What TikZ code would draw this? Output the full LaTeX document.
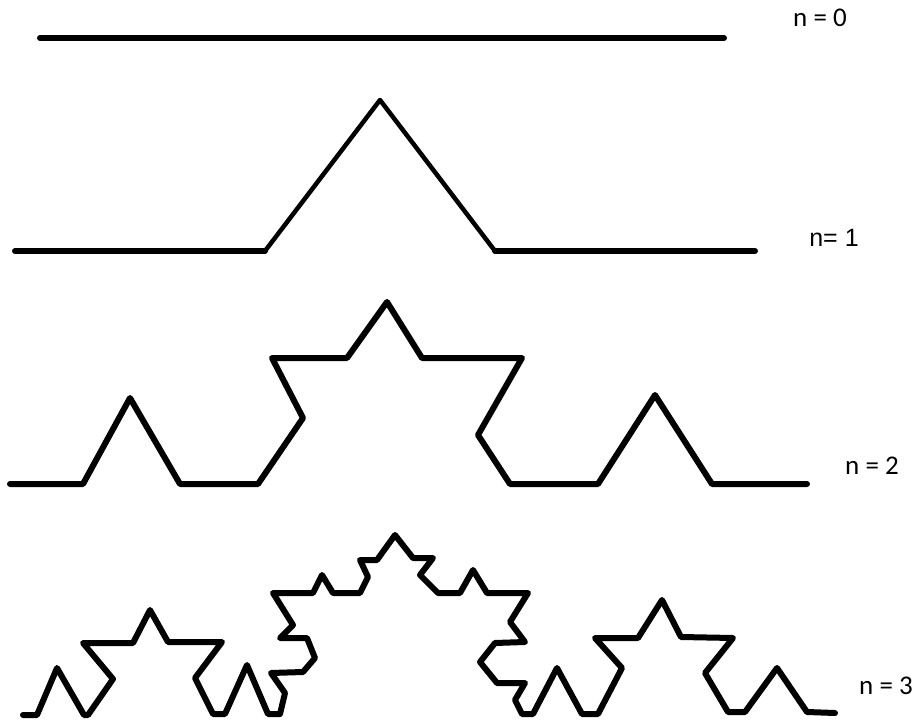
\documentclass[tikz,border=0pt]{standalone}
\usepackage{fontspec}
\setmainfont{Carlito}
\newfontfamily\arialf{Liberation Sans}
\begin{document}
\begin{tikzpicture}[x=1pt,y=-1pt,
  curve/.style={line width=6pt, line join=round, line cap=round, draw=black},
  thinline/.style={line width=4.5pt, line join=round, line cap=round, draw=black},
  lab/.style={font=\fontsize{27}{30}\selectfont, text=black, inner sep=0pt}]
\fill[white] (0,0) rectangle (922,723);
\useasboundingbox (0,0) rectangle (922,723);

% n = 0
\draw[curve] (40,38) -- (724,38);
\node[lab] (l0) at (820,18) {n = 0};

% n = 1
\coordinate (a1) at (15,251);
\coordinate (b1) at (265,251);
\coordinate (c1) at (380,100);
\coordinate (d1) at (495,251);
\coordinate (e1) at (755,251);
\draw[curve] (a1) -- (b1);
\draw[thinline] (b1) -- (c1) -- (d1);
\draw[curve] (d1) -- (e1);
\node[lab, font=\arialf\fontsize{25}{28}\selectfont] (l1) at (834,238) {n= 1};

% n = 2
\draw[curve] (10,484) -- (83,484) -- (130,398) -- (180,484) -- (258,484)
  -- (303,418) -- (272,358) -- (347,358) -- (387,302) -- (422,358)
  -- (522,358) -- (478,435) -- (510,484) -- (598,484) -- (655,395)
  -- (712,484) -- (807,484);
\node[lab] (l2) at (872,466) {n = 2};

% n = 3
\draw[curve] (23,715) -- (37,715) -- (57,668) -- (84,715) -- (88,715)
  -- (113,679) -- (83,643) -- (133,643) -- (150,610) -- (168,642)
  -- (222,642) -- (195,678) -- (213,714) -- (225,714) -- (247,665)
  -- (268,714) -- (280,714)
  -- (285,693) -- (271,673) -- (303,672) -- (315,658) -- (307,638)
  -- (280,638) -- (293,625) -- (273,593) -- (313,593) -- (322,575)
  -- (333,593) -- (360,593) -- (368,577) -- (360,560) -- (377,560)
  -- (395,535)
  -- (413,558) -- (433,558) -- (420,575) -- (438,593) -- (460,593)
  -- (473,570) -- (487,593) -- (528,593) -- (510,622) -- (525,642)
  -- (495,643) -- (480,662) -- (497,683) -- (525,683) -- (515,700)
  -- (522,714)
  -- (533,714) -- (557,668) -- (582,714) -- (598,714) -- (622,668)
  -- (595,638) -- (638,638) -- (662,600) -- (681,637) -- (733,638)
  -- (705,673) -- (728,712) -- (745,712) -- (777,668) -- (807,712)
  -- (835,713);
\node[lab] (l3) at (886,686) {n = 3};
\end{tikzpicture}
\end{document}
